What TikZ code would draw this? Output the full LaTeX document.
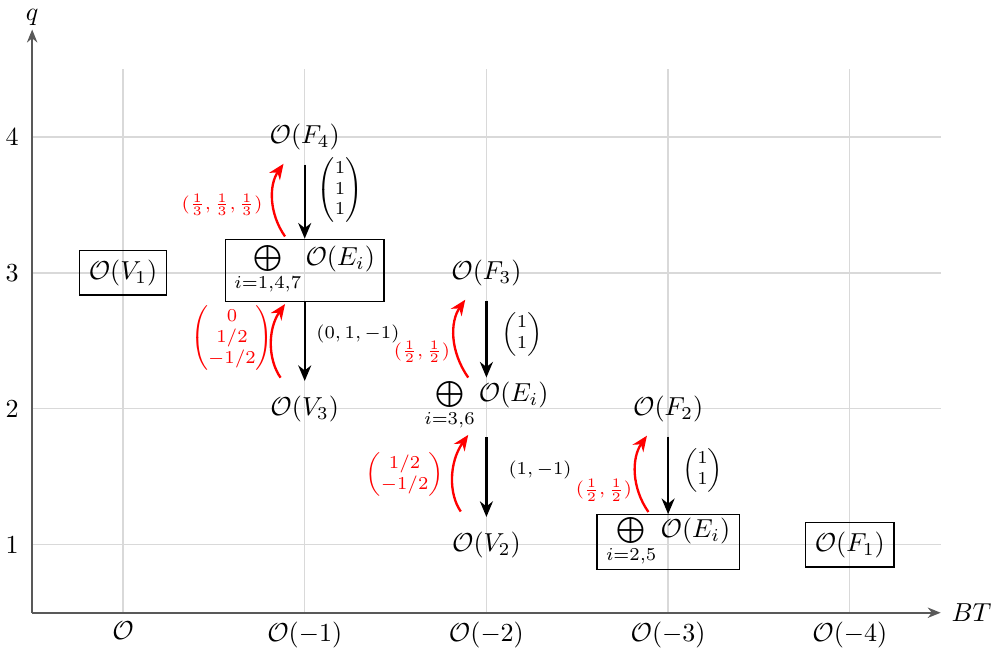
\documentclass[tikz,border=0pt]{standalone}
\usepackage{amsmath}
\usetikzlibrary{arrows.meta}
\begin{document}
\begin{tikzpicture}[x=69.9pt,y=52.3pt,
  gridline/.style={black!15, line width=0.5pt},
  axisline/.style={black!65, line width=0.7pt, -{Stealth[length=5pt,width=4pt]}},
  boxed/.style={draw, line width=0.5pt, inner sep=3.5pt},
  plain/.style={inner sep=3.5pt},
  maparrow/.style={black, line width=0.9pt, -{Stealth[length=6pt,width=5pt]}},
  backarrow/.style={red, line width=0.9pt, -{Stealth[length=6pt,width=5pt]}, bend left=35},
  blabel/.style={font=\scriptsize, inner sep=1pt},
  rlabel/.style={font=\scriptsize, text=red, inner sep=1pt}
]
\useasboundingbox (-0.677,0.184) rectangle (4.799,5.007);
% grid
\foreach \k in {0,...,4} \draw[gridline] (\k,0.5) -- (\k,4.5);
\foreach \k in {1,...,4} \draw[gridline] (-0.5,\k) -- (4.5,\k);
% axes
\coordinate (origin) at (-0.5,0.5);
\coordinate (xend) at (4.5,0.5);
\coordinate (yend) at (-0.5,4.79);
\draw[axisline] (origin) -- (xend);
\draw[axisline] (origin) -- (yend);
\node[right, inner sep=4pt] (BT) at (xend) {$BT$};
\node[above, inner sep=1.5pt] (q) at (yend) {$q$};
% tick labels
\node[below] (t0) at (0,0.5) {$\mathcal{O}$};
\node[below] (t1) at (1,0.5) {$\mathcal{O}(-1)$};
\node[below] (t2) at (2,0.5) {$\mathcal{O}(-2)$};
\node[below] (t3) at (3,0.5) {$\mathcal{O}(-3)$};
\node[below] (t4) at (4,0.5) {$\mathcal{O}(-4)$};
\foreach \k in {1,...,4} \node[left, inner sep=5pt] (y\k) at (-0.5,\k) {$\k$};
% sheaves
\node[boxed] (V1) at (0,3) {$\mathcal{O}(V_1)$};
\node[plain] (F4) at (1,4) {$\mathcal{O}(F_4)$};
\node[boxed, inner ysep=2.6pt, yshift=1pt] (E147) at (1,3) {$\bigoplus\limits_{i=1,4,7}\mathcal{O}(E_i)$};
\node[plain] (V3) at (1,2) {$\mathcal{O}(V_3)$};
\node[plain] (F3) at (2,3) {$\mathcal{O}(F_3)$};
\node[plain, inner ysep=1.5pt, yshift=1pt] (E36) at (2,2) {$\bigoplus\limits_{i=3,6}\mathcal{O}(E_i)$};
\node[plain] (V2) at (2,1) {$\mathcal{O}(V_2)$};
\node[plain] (F2) at (3,2) {$\mathcal{O}(F_2)$};
\node[boxed, inner ysep=1.2pt, yshift=1pt] (E25) at (3,1) {$\bigoplus\limits_{i=2,5}\mathcal{O}(E_i)$};
\node[boxed] (F1) at (4,1) {$\mathcal{O}(F_1)$};
% black maps
\draw[maparrow, shorten <=2pt] (F4.south) -- (F4.south |- E147.north);
\draw[maparrow, shorten >=2pt] (E147.south -| V3) -- (V3.north);
\draw[maparrow, shorten <=2pt] (F3.south) -- (F3.south |- E36.north);
\draw[maparrow, shorten <=1pt, shorten >=2pt] (E36.south -| V2) -- (V2.north);
\draw[maparrow, shorten <=2pt] (F2.south) -- (F2.south |- E25.north);
% red maps
\draw[backarrow, shorten <=1pt, shorten >=2pt] ([xshift=-7pt]F4.south |- E147.north) to ([xshift=-7pt]F4.south);
\draw[backarrow, shorten <=4pt, shorten >=1pt] ([xshift=-7pt]V3.north) to ([xshift=-7pt]V3.north |- E147.south);
\draw[backarrow, shorten <=0pt, shorten >=2pt] ([xshift=-7pt]F3.south |- E36.north) to ([xshift=-7pt]F3.south);
\draw[backarrow, shorten <=5pt, shorten >=0pt] ([xshift=-7pt]V2.north) to ([xshift=-7pt]V2.north |- E36.south);
\draw[backarrow, shorten <=1pt, shorten >=2pt] ([xshift=-7pt]F2.south |- E25.north) to ([xshift=-7pt]F2.south);
% black labels
\node[blabel] (l1) at (1.194,3.61) {$\begin{pmatrix}1\\1\\1\end{pmatrix}$};
\node[blabel] (l2) at (1.293,2.55) {$(0,1,-1)$};
\node[blabel] (l3) at (2.196,2.55) {$\begin{pmatrix}1\\1\end{pmatrix}$};
\node[blabel] (l4) at (2.295,1.55) {$(1,-1)$};
\node[blabel] (l5) at (3.19,1.55) {$\begin{pmatrix}1\\1\end{pmatrix}$};
% red labels
\node[rlabel] (r1) at (0.545,3.5) {$(\frac{1}{3},\frac{1}{3},\frac{1}{3})$};
\node[rlabel] (r2) at (0.6,2.52) {$\begin{pmatrix}0\\1/2\\-1/2\end{pmatrix}$};
\node[rlabel] (r3) at (1.645,2.42) {$(\frac{1}{2},\frac{1}{2})$};
\node[rlabel] (r4) at (1.55,1.515) {$\begin{pmatrix}1/2\\-1/2\end{pmatrix}$};
\node[rlabel] (r5) at (2.647,1.40) {$(\frac{1}{2},\frac{1}{2})$};
\end{tikzpicture}
\end{document}
